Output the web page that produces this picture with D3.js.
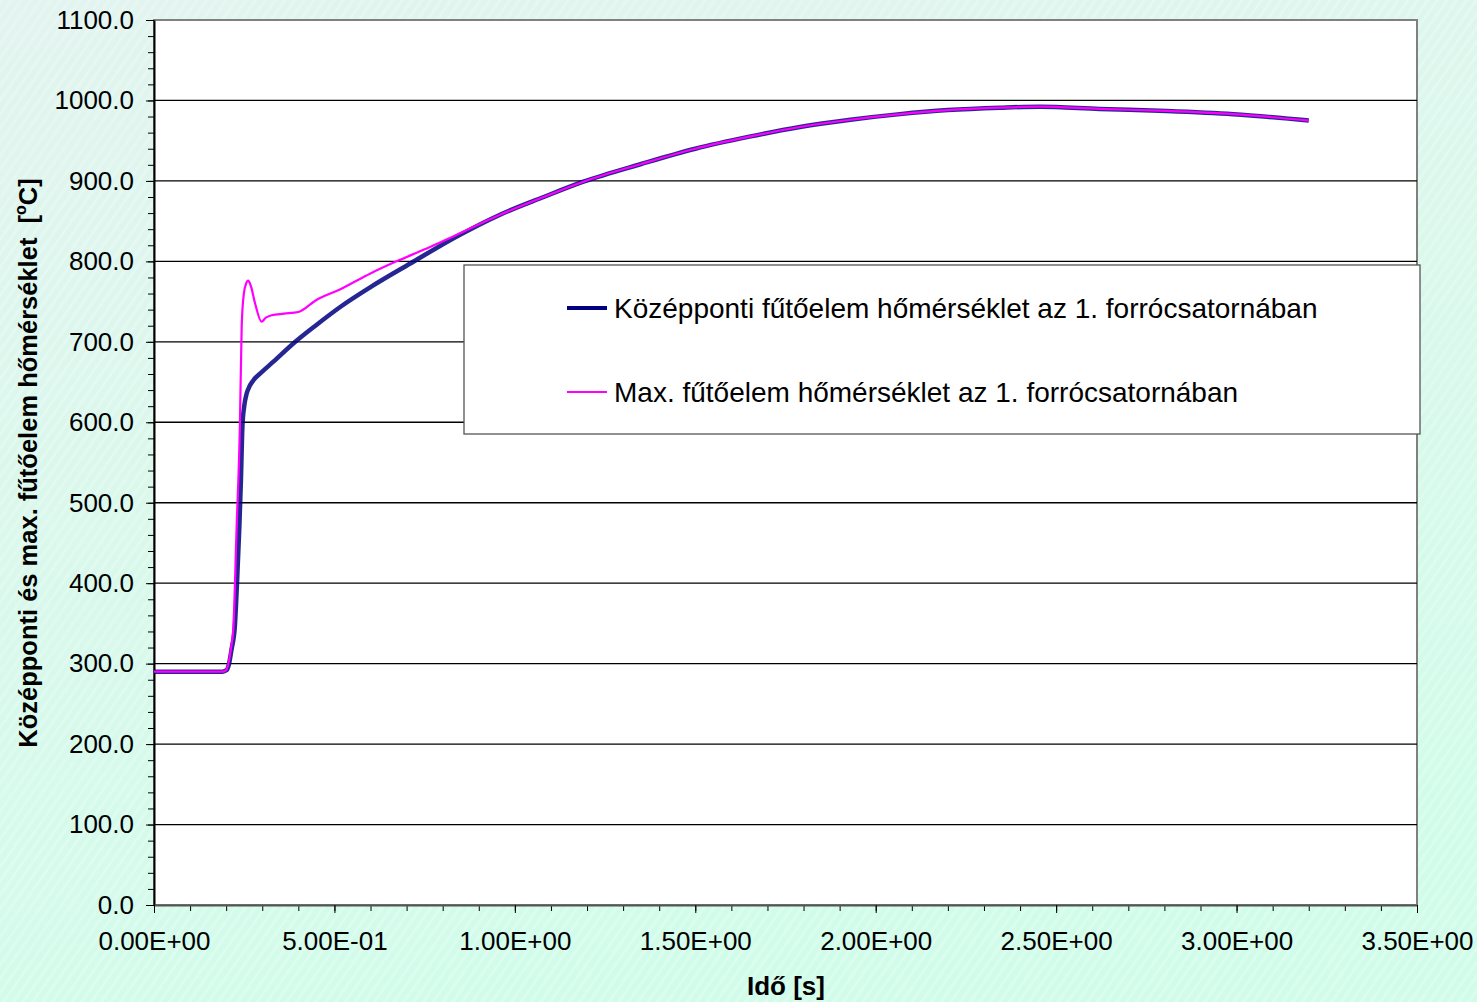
<!DOCTYPE html>
<html>
<head>
<meta charset="utf-8">
<script src="https://cdn.jsdelivr.net/npm/d3@7"></script>
<style>
  body { margin: 0; padding: 0; overflow: hidden; }
  text { font-family: "Liberation Sans", Arial, sans-serif; }
</style>
</head>
<body>
<script>
// futoelem homerseklet chart

var w = 1477, h = 1002;

// time [s] and temperature [C]
var timeCentral = [0, 0.19, 0.2015, 0.208, 0.215, 0.224, 0.23, 0.2365, 0.241, 0.245, 0.25, 0.257, 0.265, 0.275, 0.30, 0.33, 0.386, 0.45, 0.515, 0.6, 0.709, 0.848, 0.959, 1.08, 1.19, 1.35, 1.5, 1.65, 1.79, 1.93, 2.067, 2.2, 2.344, 2.455, 2.62, 2.806, 2.991, 3.2];
var tempCentral = [290, 290, 292, 300, 318, 346, 400, 470, 530, 595, 620, 636, 645, 652, 663, 675, 698, 721, 743, 768, 797, 833, 858, 880, 899, 921, 940, 955, 967, 976, 983, 988, 991, 992.3, 989.5, 987, 983, 975];

var timeMax = [0, 0.19, 0.2, 0.206, 0.213, 0.22, 0.229, 0.238, 0.243, 0.249, 0.255, 0.261, 0.268, 0.28, 0.298, 0.31, 0.326, 0.36, 0.40, 0.45, 0.515, 0.6, 0.672, 0.75, 0.82, 0.848, 0.959, 1.08, 1.19, 1.35, 1.5, 1.65, 1.79, 1.93, 2.067, 2.2, 2.344, 2.455, 2.62, 2.806, 2.991, 3.2];
var tempMax = [290, 290, 292, 300, 318, 346, 470, 595, 719, 760, 772, 776, 770, 748, 725, 730, 733, 735, 737, 752, 765, 785, 800, 815, 829, 835, 858, 880, 899, 921, 940, 955, 967, 976, 983, 988, 991, 992.3, 989.5, 987, 983, 975];

var xTicks = [0, 0.5, 1.0, 1.5, 2.0, 2.5, 3.0, 3.5];
var yTicks = [0, 100, 200, 300, 400, 500, 600, 700, 800, 900, 1000, 1100];
var seriesNames = ["Középponti fűtőelem hőmérséklet az 1. forrócsatornában",
                   "Max. fűtőelem hőmérséklet az 1. forrócsatornában"];
var seriesColors = ["#000080", "#FF00FF"];

var pLeft = 154, pRight = 1417, pTop = 20, pBottom = 905;

var svg = d3.select("body")
		.append("svg")
		.attr("width", w)
		.attr("height", h);

// background
var defs = svg.append("defs");
var bg = defs.append("linearGradient").attr("id", "bgGrad")
		.attr("x1", 0).attr("y1", 0).attr("x2", 0.3).attr("y2", 1);
bg.append("stop").attr("offset", "0").attr("stop-color", "#e2f4ef");
bg.append("stop").attr("offset", "0.5").attr("stop-color", "#daf8ec");
bg.append("stop").attr("offset", "1").attr("stop-color", "#d1fcea");
var pat = defs.append("pattern").attr("id", "stripes")
		.attr("width", 8).attr("height", 8)
		.attr("patternUnits", "userSpaceOnUse")
		.attr("patternTransform", "rotate(35)");
pat.append("rect").attr("width", 3).attr("height", 8).attr("fill", "#ffffff").attr("opacity", 0.35);

svg.append("rect").attr("width", w).attr("height", h).attr("fill", "url(#bgGrad)");
svg.append("rect").attr("width", w).attr("height", h).attr("fill", "url(#stripes)").attr("opacity", 0.6);

// plot area
svg.append("rect")
	.attr("x", pLeft).attr("y", pTop)
	.attr("width", pRight - pLeft).attr("height", pBottom - pTop)
	.attr("fill", "white")
	.attr("stroke", "#808080")
	.attr("stroke-width", 2);

var x = d3.scaleLinear().domain([0, 3.5]).range([pLeft, pRight]);
var y = d3.scaleLinear().domain([0, 1100]).range([pBottom, pTop]);

// gridlines
svg.append("g").selectAll("line")
	.data(yTicks.filter(function(d) { return d > 0 && d < 1100; }))
	.enter().append("line")
	.attr("x1", pLeft).attr("x2", pRight)
	.attr("y1", function(d) { return y(d); })
	.attr("y2", function(d) { return y(d); })
	.attr("stroke", "#000")
	.attr("stroke-width", 1.3);

function sciFmt(d) {
	var s = d.toExponential(2).toUpperCase().split("E");
	var e = parseInt(s[1], 10);
	var sign = e < 0 ? "-" : "+";
	e = Math.abs(e);
	return s[0] + "E" + sign + (e < 10 ? "0" + e : e);
}

// minor ticks
var yMinor = d3.range(0, 1101, 20);
var xMinor = d3.range(0, 36).map(function(i) { return i / 10; });
svg.append("g")
	.attr("transform", "translate(" + pLeft + ",0)")
	.call(d3.axisLeft(y).tickValues(yMinor).tickSize(6).tickFormat(""))
	.call(function(g) { g.select(".domain").remove(); });
svg.append("g")
	.attr("transform", "translate(0," + pBottom + ")")
	.call(d3.axisBottom(x).tickValues(xMinor).tickSize(6).tickFormat(""))
	.call(function(g) { g.select(".domain").remove(); });

// major axes
var yAxis = svg.append("g")
	.attr("transform", "translate(" + pLeft + ",0)")
	.call(d3.axisLeft(y).tickValues(yTicks).tickSize(8).tickSizeOuter(0).tickPadding(12).tickFormat(d3.format(".1f")));
yAxis.selectAll("text").attr("font-size", 26).attr("fill", "#000")
	.style("font-family", "'Liberation Sans', Arial, sans-serif");
yAxis.select(".domain").attr("stroke-width", 2);

var xAxis = svg.append("g")
	.attr("transform", "translate(0," + pBottom + ")")
	.call(d3.axisBottom(x).tickValues(xTicks).tickSize(8).tickSizeOuter(0).tickPadding(19).tickFormat(sciFmt));
xAxis.selectAll("text").attr("font-size", 26).attr("fill", "#000")
	.style("font-family", "'Liberation Sans', Arial, sans-serif");
xAxis.select(".domain").attr("stroke", "#555").attr("stroke-width", 2);

// series lines
var line = d3.line()
	.x(function(d) { return x(d[0]); })
	.y(function(d) { return y(d[1]); })
	.curve(d3.curveMonotoneX);

var central = d3.zip(timeCentral, tempCentral);
var maxT = d3.zip(timeMax, tempMax);

svg.append("path").datum(central)
	.attr("d", line)
	.attr("fill", "none")
	.attr("stroke", seriesColors[0])
	.attr("stroke-width", 4.5)
	.attr("stroke-opacity", 0.85);
svg.append("path").datum(maxT)
	.attr("d", line)
	.attr("fill", "none")
	.attr("stroke", seriesColors[1])
	.attr("stroke-width", 2.2);

// legend
var legend = svg.append("g");
legend.append("rect")
	.attr("x", 464).attr("y", 265)
	.attr("width", 956).attr("height", 169)
	.attr("fill", "white")
	.attr("stroke", "#555")
	.attr("stroke-width", 1.3);
var legY = [308, 392];
var legW = [4, 2];
for (var i = 0; i < 2; i++) {
	legend.append("line")
		.attr("x1", 567).attr("x2", 607)
		.attr("y1", legY[i]).attr("y2", legY[i])
		.attr("stroke", seriesColors[i])
		.attr("stroke-width", legW[i]);
	legend.append("text")
		.attr("x", 614).attr("y", legY[i] + 10)
		.attr("font-size", 28)
		.attr("fill", "#000")
		.text(seriesNames[i]);
}

// axis titles
svg.append("text")
	.attr("x", 786).attr("y", 995)
	.attr("text-anchor", "middle")
	.attr("font-size", 26)
	.attr("font-weight", "bold")
	.text("Idő [s]");

var yTitle = svg.append("text")
	.attr("transform", "translate(37," + 463 + ") rotate(-90)")
	.attr("text-anchor", "middle")
	.attr("font-size", 25.5)
	.attr("font-weight", "bold");
yTitle.append("tspan").text("Középponti és max. fűtőelem hőmérséklet\u00a0\u00a0[");
yTitle.append("tspan").attr("font-size", 16).attr("dy", -11).text("o");
yTitle.append("tspan").attr("dy", 11).text("C]");
</script>
</body>
</html>
